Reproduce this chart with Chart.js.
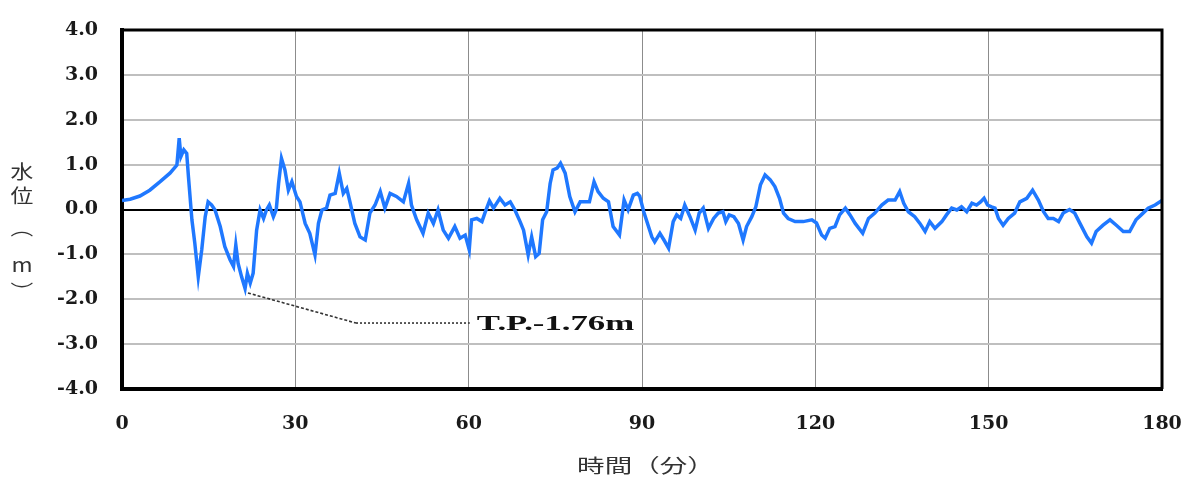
<!DOCTYPE html>
<html>
<head>
<meta charset="utf-8">
<script src="https://cdn.jsdelivr.net/npm/chart.js@4.4.1/dist/chart.umd.min.js"></script>
<style>
  html, body { margin: 0; padding: 0; background: #fff; }
  canvas { display: block; }
</style>
</head>
<body>
<canvas id="levelChart" width="1188" height="483"></canvas>
<script>
// 経過時間（分）
const minutes = [
  0, 1.4, 3.1, 4.8, 6.6, 8.3, 9.5, 9.9, 10.2, 10.7, 11.2, 11.5, 12.1, 12.6, 13.2, 13.8, 14.4, 14.9,
  15.5, 16.1, 17.0, 17.8, 18.7, 19.3, 19.7, 20.1, 20.7, 21.3, 21.7, 22.2, 22.7, 23.3, 23.9, 24.5,
  25.0, 25.5, 26.2, 26.7, 27.1, 27.6, 28.2, 28.8, 29.4, 30.2, 30.8, 31.7, 32.5, 33.4, 34.0, 34.6,
  35.4, 36.0, 36.9, 37.6, 38.3, 38.9, 39.5, 40.3, 41.2, 42.1, 42.9, 43.8, 44.7, 45.5, 46.4, 47.5,
  48.7, 49.6, 50.1, 51.0, 52.1, 53.0, 53.9, 54.7, 55.6, 56.5, 57.6, 58.5, 59.4, 60.1, 60.5, 61.4,
  62.3, 62.8, 63.6, 64.3, 65.4, 66.3, 67.2, 68.0, 68.9, 69.5, 70.3, 70.9, 71.6, 72.2, 72.8, 73.5,
  74.1, 74.6, 75.3, 75.9, 76.7, 77.5, 78.4, 79.3, 80.1, 80.9, 81.7, 82.4, 83.3, 84.2, 85.0, 86.1,
  86.9, 87.6, 88.5, 89.2, 89.6, 90.3, 91.7, 92.2, 93.1, 93.8, 94.6, 95.4, 96.0, 96.7, 97.4, 98.3,
  99.2, 99.9, 100.6, 101.5, 102.4, 103.2, 104.0, 104.5, 105.1, 105.9, 106.7, 107.5, 108.1, 109.0,
  109.7, 110.5, 111.3, 112.2, 113.0, 113.8, 114.5, 115.3, 116.5, 117.9, 119.4, 120.2, 121.1, 121.7,
  122.5, 123.4, 124.2, 125.2, 126.0, 126.9, 128.2, 129.2, 130.3, 131.5, 132.6, 133.8, 134.6, 135.3,
  136.1, 137.2, 138.1, 139.0, 139.8, 140.7, 141.9, 142.7, 143.6, 144.5, 145.3, 146.2, 147.1, 147.9,
  148.6, 149.2, 149.8, 150.5, 151.1, 151.7, 152.5, 153.4, 154.5, 155.4, 156.6, 157.6, 158.6, 159.5,
  160.3, 161.2, 162.1, 162.9, 164.0, 164.9, 165.8, 167.0, 167.8, 168.6, 169.8, 171.0, 172.1, 173.3,
  174.4, 175.5, 176.4, 177.6, 178.8, 180
];

// 水位（m）
const levels = [
  0.20, 0.23, 0.30, 0.43, 0.62, 0.81, 0.99, 1.59, 1.18, 1.33, 1.25, 0.73, -0.23, -0.75, -1.50, -0.90, -0.16, 0.17,
  0.10, -0.01, -0.38, -0.83, -1.12, -1.27, -0.79, -1.20, -1.50, -1.76, -1.42, -1.64, -1.42, -0.46, -0.01, -0.20,
  -0.01, 0.10, -0.16, 0.00, 0.58, 1.14, 0.88, 0.43, 0.62, 0.29, 0.17, -0.31, -0.53, -1.01, -0.31, -0.01,
  0.03, 0.32, 0.36, 0.81, 0.36, 0.47, 0.14, -0.31, -0.61, -0.68, -0.08, 0.10, 0.40, 0.03, 0.36, 0.29,
  0.17, 0.58, 0.10, -0.23, -0.53, -0.08, -0.31, -0.01, -0.46, -0.64, -0.38, -0.64, -0.57, -0.90, -0.23, -0.20,
  -0.27, -0.08, 0.19, 0.03, 0.25, 0.10, 0.17, -0.01, -0.27, -0.46, -1.01, -0.61, -1.05, -0.98, -0.23, -0.05,
  0.58, 0.88, 0.92, 1.03, 0.81, 0.29, -0.05, 0.17, 0.17, 0.17, 0.62, 0.40, 0.25, 0.17, -0.38, -0.57,
  0.21, -0.01, 0.32, 0.36, 0.30, -0.05, -0.61, -0.72, -0.53, -0.68, -0.86, -0.27, -0.12, -0.20, 0.10, -0.16,
  -0.46, -0.08, 0.03, -0.42, -0.20, -0.08, -0.05, -0.27, -0.12, -0.16, -0.31, -0.68, -0.38, -0.16,
  0.06, 0.55, 0.77, 0.66, 0.51, 0.25, -0.08, -0.20, -0.27, -0.27, -0.23, -0.30, -0.57, -0.64,
  -0.42, -0.38, -0.12, 0.03, -0.12, -0.31, -0.53, -0.20, -0.08, 0.10, 0.21, 0.21, 0.40, 0.14,
  -0.05, -0.16, -0.31, -0.49, -0.27, -0.42, -0.27, -0.12, 0.03, -0.01, 0.06, -0.05, 0.14, 0.10,
  0.17, 0.25, 0.10, 0.06, 0.03, -0.20, -0.35, -0.20, -0.08, 0.17, 0.25, 0.43, 0.21, -0.05,
  -0.20, -0.20, -0.27, -0.08, 0.00, -0.08, -0.31, -0.61, -0.75, -0.49, -0.35, -0.23, -0.35, -0.49,
  -0.49, -0.23, -0.12, 0.03, 0.10, 0.20
];

const xTicks = [0, 30, 60, 90, 120, 150, 180];
const yTicks = [-4, -3, -2, -1, 0, 1, 2, 3, 4];

const xTitle = '時間（分）';
const yTitle = ['水', '位', '︵', 'm', '︶'];

// 最低水位の注記
const lowTime = 21.3;
const lowLevel = -1.76;
const lowLabel = 'T.P.-1.76m';

// 横長の文字を描く
function drawWide(ctx, text, x, y, sx, align) {
  ctx.save();
  ctx.translate(x, y);
  ctx.scale(sx, 1);
  ctx.textAlign = align;
  ctx.textBaseline = 'middle';
  ctx.fillText(text, 0, 0);
  ctx.restore();
}

const extras = {
  id: 'extras',
  afterDraw(chart) {
    const { ctx, chartArea: a, scales: { x, y } } = chart;
    ctx.save();

    // 上辺・右辺の枠
    ctx.strokeStyle = '#000';
    ctx.lineWidth = 3;
    ctx.beginPath();
    ctx.moveTo(a.left, a.top);
    ctx.lineTo(a.right, a.top);
    ctx.lineTo(a.right, a.bottom);
    ctx.stroke();

    // 引出線
    const x0 = x.getPixelForValue(lowTime + 0.5);
    const y0 = y.getPixelForValue(lowLevel - 0.1);
    const x1 = x.getPixelForValue(40.5);
    const y1 = y.getPixelForValue(-2.53);
    const x2 = x.getPixelForValue(60.2);
    ctx.strokeStyle = '#333';
    ctx.lineWidth = 1.6;
    ctx.setLineDash([3, 2]);
    ctx.beginPath();
    ctx.moveTo(x0, y0);
    ctx.lineTo(x1, y1);
    ctx.stroke();
    ctx.setLineDash([2, 2]);
    ctx.beginPath();
    ctx.moveTo(x1, y1);
    ctx.lineTo(x2, y1);
    ctx.stroke();
    ctx.setLineDash([]);

    ctx.fillStyle = '#111';
    ctx.font = 'bold 22px "Liberation Serif"';
    drawWide(ctx, lowLabel, x2 + 7, y1 + 1, 1.58, 'left');

    // 軸タイトル
    ctx.fillStyle = '#333';
    ctx.font = '19px "Noto Sans CJK JP"';
    drawWide(ctx, xTitle, (a.left + a.right) / 2 + 4, 466, 1.45, 'center');

    const rows = [172, 196, 228, 265, 292];
    yTitle.forEach((ch, i) => drawWide(ctx, ch, 22, rows[i], 1.2, 'center'));

    ctx.restore();
  }
};

new Chart(document.getElementById('levelChart').getContext('2d'), {
  type: 'line',
  data: {
    datasets: [{
      data: minutes.map((m, i) => ({ x: m, y: levels[i] })),
      borderColor: '#1f78ff',
      borderWidth: 3.5,
      pointRadius: 0,
      tension: 0,
      fill: false
    }]
  },
  options: {
    responsive: false,
    animation: false,
    layout: { padding: { left: 0, right: 26, top: 30, bottom: 0 } },
    plugins: {
      legend: { display: false },
      tooltip: { enabled: false }
    },
    scales: {
      x: {
        type: 'linear',
        min: 0,
        max: 180,
        afterBuildTicks: s => { s.ticks = xTicks.map(v => ({ value: v })); },
        afterFit: s => {
          s.height = 94;
          s.paddingLeft = 0;
          s.paddingRight = 0;
        },
        grid: { color: '#8c8c8c', lineWidth: 1, drawTicks: false },
        border: { color: '#000', width: 4 },
        ticks: {
          padding: 24,
          color: '#1a1a1a',
          font: { family: '"DejaVu Serif"', weight: 'bold', size: 19 }
        }
      },
      y: {
        min: -4,
        max: 4,
        afterBuildTicks: s => { s.ticks = yTicks.map(v => ({ value: v })); },
        afterFit: s => {
          s.width = 122;
          s.paddingTop = 0;
          s.paddingBottom = 0;
        },
        grid: {
          color: c => c.tick && c.tick.value === 0 ? '#000' : '#bfbfbf',
          lineWidth: 2,
          drawTicks: false
        },
        border: { color: '#000', width: 4 },
        ticks: {
          padding: 24,
          color: '#1a1a1a',
          font: { family: '"DejaVu Serif"', weight: 'bold', size: 19 },
          callback: v => v.toFixed(1)
        }
      }
    }
  },
  plugins: [extras]
});
</script>
</body>
</html>
